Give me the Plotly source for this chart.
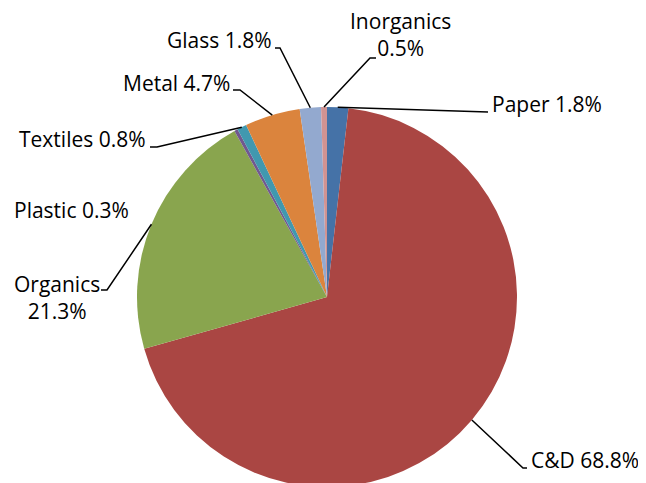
import math
import plotly.graph_objects as go

# ---- data ----
categories = ["Paper", "C&D", "Organics", "Plastic", "Textiles", "Metal", "Glass", "Inorganics"]
values = [1.8, 68.8, 21.3, 0.3, 0.8, 4.7, 1.8, 0.5]
label_texts = ["Paper 1.8%", "C&D 68.8%", "Organics<br>21.3%", "Plastic 0.3%",
               "Textiles 0.8%", "Metal 4.7%", "Glass 1.8%", "Inorganics<br>0.5%"]

# ---- styling / layout ----
colors = ["#4572A7", "#AA4643", "#89A54E", "#71588F", "#4198AF", "#DB843D", "#93A9CF", "#D19392"]
W, H = 646, 483
OFF = 8  # page body margin offset
CX, CY, R = 327, 297, 190  # pie centre / radius in screen pixels

# label placement (screen pixels): text x, text y, anchor, elbow point, line end (None => no line)
label_layout = [
    dict(tx=490, ty=104, anchor="left", elbow=(488, 112), end=(488, 112)),
    dict(tx=529, ty=460, anchor="left", elbow=(523, 468), end=(527, 468)),
    dict(tx=57, ty=297, anchor="center", elbow=(107, 290), end=(101, 290)),
    dict(tx=12, ty=210, anchor="left", elbow=None, end=None),
    dict(tx=148, ty=139, anchor="right", elbow=(157, 147), end=(150, 147)),
    dict(tx=232, ty=83, anchor="right", elbow=(240, 90), end=(233, 90)),
    dict(tx=274, ty=40, anchor="right", elbow=(280, 48), end=(275, 48)),
    dict(tx=400, ty=35, anchor="center", elbow=(370, 58), end=(376, 58)),
]

FONT = "Open Sans"
FSIZE = 21


def px(x):
    return (x - OFF) / W


def py(y):
    return (H - (y - OFF)) / H


fig = go.Figure(go.Pie(
    labels=categories,
    values=values,
    sort=False,
    direction="clockwise",
    rotation=0,
    textinfo="none",
    hoverinfo="label+percent",
    marker=dict(colors=colors, line=dict(color="white", width=0)),
    domain=dict(x=[px(CX - R), px(CX + R)], y=[py(CY + R), py(CY - R)]),
    showlegend=False,
))

total = sum(values)
cum = 0.0
annotations = []
shapes = []
for v, txt, lay in zip(values, label_texts, label_layout):
    mid = (cum + v / 2) / total * 2 * math.pi
    cum += v
    ex = CX + R * math.sin(mid)
    ey = CY - R * math.cos(mid)
    annotations.append(dict(
        x=px(lay["tx"]), y=py(lay["ty"]), xref="paper", yref="paper",
        text=txt, showarrow=False, xanchor=lay["anchor"], yanchor="middle",
        align="center", font=dict(family=FONT, size=FSIZE, color="#000000"),
    ))
    if lay["elbow"] is not None:
        (bx, by), (fx, fy) = lay["elbow"], lay["end"]
        path = f"M {px(ex)} {py(ey)} L {px(bx)} {py(by)} L {px(fx)} {py(fy)}"
        shapes.append(dict(type="path", path=path, xref="paper", yref="paper",
                           line=dict(color="black", width=1.5)))

fig.update_layout(
    width=W, height=H,
    margin=dict(l=0, r=0, t=0, b=0),
    paper_bgcolor="white",
    plot_bgcolor="white",
    annotations=annotations,
    shapes=shapes,
)

fig.write_html("out.html")
